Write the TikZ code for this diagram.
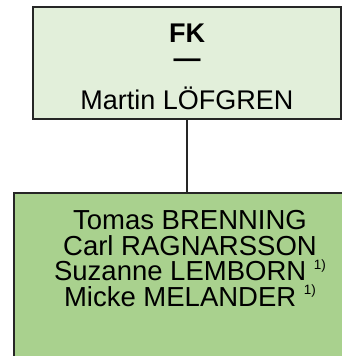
\documentclass[tikz,border=0pt]{standalone}
\usepackage{fontspec}
\setmainfont{Liberation Sans}
\definecolor{lightgreen}{HTML}{E2EFDA}
\definecolor{midgreen}{HTML}{A9D18E}
\tikzset{
  box/.style={draw=black!85, line width=1.6pt, inner sep=0pt},
  txt/.style={inner sep=0pt, font=\fontsize{27.5}{25.5}\selectfont},
  link/.style={draw=black!85, line width=1.2pt}
}
\begin{document}
\begin{tikzpicture}[x=1pt,y=1pt]
\useasboundingbox (0,0) rectangle (342,356);
\clip (0,0) rectangle (342,356);
\node[box, fill=lightgreen, minimum width=308pt, minimum height=112pt] (top) at (187,293) {};
\node[box, fill=midgreen, minimum width=360pt, minimum height=220pt, anchor=north west] (bot) at (13,164) {};
\node[txt, anchor=base, text height=19pt, text depth=0pt, font=\bfseries\fontsize{27}{24}\selectfont] (fk) at (187,313) {FK};
\node[txt, anchor=base, text height=9pt, text depth=0pt, font=\bfseries\fontsize{27}{24}\selectfont] (dash) at (187,288.5) {—};
\node[txt, anchor=base, font=\fontsize{27}{25}\selectfont] (head) at (187,246) {Martin LÖFGREN};
\node[txt, anchor=base] (l1) at (190,126) {Tomas BRENNING};
\node[txt, anchor=base] (l2) at (190,100.5) {Carl RAGNARSSON};
\node[txt, anchor=base] (l3) at (190,75) {Suzanne LEMBORN \raisebox{0.42em}{\fontsize{13.5}{13.5}\selectfont 1)}};
\node[txt, anchor=base] (l4) at (190,49.5) {Micke MELANDER \raisebox{0.42em}{\fontsize{13.5}{13.5}\selectfont 1)}};
\draw[link] (top.south) -- (top.south |- bot.north);
\end{tikzpicture}
\end{document}
